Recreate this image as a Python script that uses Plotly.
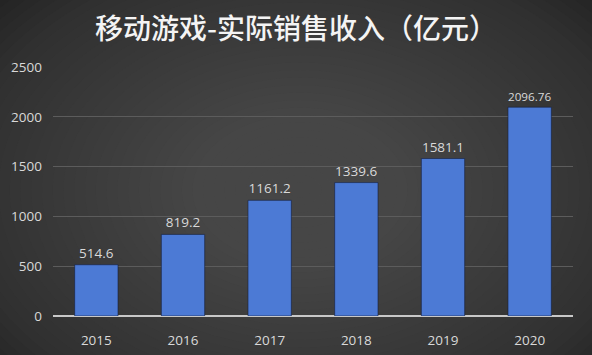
import plotly.graph_objects as go

years = ["2015", "2016", "2017", "2018", "2019", "2020"]
revenue = [514.6, 819.2, 1161.2, 1339.6, 1581.1, 2096.76]
labels = ["514.6", "819.2", "1161.2", "1339.6", "1581.1", "2096.76"]
y_ticks = [0, 500, 1000, 1500, 2000, 2500]

W, H = 592, 355
ML, MR, MT, MB = 53, 19, 67, 39
pw, ph = W - ML - MR, H - MT - MB

def px_to_paper_x(px):
    return (px - ML) / pw

def px_to_paper_y(py):
    return (H - MB - py) / ph

fig = go.Figure()
fig.add_trace(go.Bar(
    x=years, y=revenue, text=labels, textposition="outside",
    textfont=dict(color="#d9d9d9", size=13.5, family="Open Sans"),
    marker=dict(color="#4c7ad5", line=dict(color="rgba(20,30,60,0.6)", width=1)),
    width=0.5, cliponaxis=False, hoverinfo="skip",
))

# radial-ish background glow
shapes = []
N = 40
cx, cy = 300, 190
for i in range(N):
    f = 1 - i / N
    rx, ry = 430 * f, 300 * f
    shapes.append(dict(
        type="circle", xref="paper", yref="paper", layer="below",
        x0=px_to_paper_x(cx - rx), x1=px_to_paper_x(cx + rx),
        y0=px_to_paper_y(cy + ry), y1=px_to_paper_y(cy - ry),
        fillcolor="rgba(100,100,100,0.045)", line=dict(width=0),
    ))

fig.update_layout(
    width=W, height=H,
    margin=dict(l=ML, r=MR, t=MT, b=MB, autoexpand=False),
    paper_bgcolor="#1e1e1e", plot_bgcolor="rgba(0,0,0,0)",
    shapes=shapes,
    showlegend=False,
    title=dict(text="移动游戏-实际销售收入（亿元）", x=px_to_paper_x(296), xref="paper", xanchor="center",
               y=1 - 29 / H, yanchor="middle",
               font=dict(family="Noto Sans CJK SC", size=28, color="#f4f4f4", weight=500)),
    bargap=0.5,
    xaxis=dict(showgrid=False, showline=False, zeroline=False, ticks="", automargin=False,
               tickfont=dict(color="#d9d9d9", size=13.5, family="Open Sans"),
               ticklabelstandoff=14),
    yaxis=dict(range=[0, 2500], tickvals=y_ticks, showgrid=True, gridcolor="#5c5c5c", gridwidth=1,
               zeroline=True, zerolinecolor="#c8c8c8", zerolinewidth=2, showline=False, ticks="",
               automargin=False,
               tickfont=dict(color="#d9d9d9", size=13.5, family="Open Sans"),
               ticklabelstandoff=10),
)

fig.write_html("out.html")
